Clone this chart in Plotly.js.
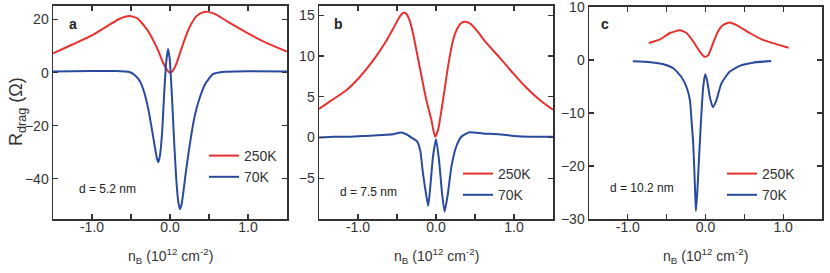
<!DOCTYPE html>
<html><head><meta charset="utf-8">
<script src="https://cdn.plot.ly/plotly-3.0.1.min.js"></script>
<style>html,body{margin:0;padding:0;background:#fff}#chart{width:830px;height:273px}</style>
</head><body><div id="chart"></div>
<script>
// Panel a (d = 5.2 nm)
const aRedX = [-1.5,-1.25,-1.0,-0.8,-0.65,-0.52,-0.42,-0.3,-0.22,-0.15,-0.09,-0.05,-0.02,0.0,0.03,0.08,0.13,0.2,0.27,0.34,0.42,0.49,0.6,0.75,1.0,1.25,1.5];
const aRedY = [7.3,10.6,14.0,17.6,20.2,21.3,20.5,16.5,12.5,8.2,3.8,1.6,0.3,0.0,0.5,3.2,7.5,13.5,18.2,21.3,22.7,22.9,21.8,19.0,14.8,11.0,7.9];
const aBlueX = [-1.5,-1.0,-0.7,-0.52,-0.45,-0.38,-0.33,-0.28,-0.24,-0.2,-0.17,-0.15,-0.13,-0.1,-0.075,-0.05,-0.026,-0.005,0.015,0.035,0.055,0.08,0.105,0.128,0.15,0.18,0.21,0.27,0.32,0.37,0.45,0.55,0.7,1.0,1.5];
const aBlueY = [0.4,0.6,0.6,0.2,-1.0,-3.5,-7.5,-13.5,-20,-27,-32,-33.8,-31.5,-22,-8,3.5,8.9,5.5,-3.5,-15,-27,-40,-48.5,-51.5,-49.5,-43,-36,-24,-16,-10.5,-4.4,-0.6,0.3,0.5,0.4];
// Panel b (d = 7.5 nm)
const bRedX = [-1.5,-1.35,-1.15,-0.98,-0.81,-0.64,-0.53,-0.46,-0.415,-0.38,-0.34,-0.295,-0.21,-0.124,-0.06,-0.013,0.026,0.09,0.154,0.22,0.28,0.33,0.38,0.45,0.55,0.645,0.816,0.987,1.16,1.33,1.5];
const bRedY = [3.5,4.5,5.8,7.4,9.4,11.8,13.7,14.9,15.3,15.2,14.4,12.8,8.7,4.6,2.2,0.1,0.9,4.6,8.7,12,13.5,14.1,14.2,13.9,12.8,11.6,9.8,7.9,6.1,4.6,3.4];
const bBlueX = [-1.5,-1.3,-1.1,-0.9,-0.7,-0.55,-0.45,-0.38,-0.3,-0.24,-0.2,-0.167,-0.13,-0.1,-0.073,-0.038,0,0.038,0.077,0.11,0.154,0.197,0.26,0.325,0.43,0.6,0.8,1.0,1.2,1.5];
const bBlueY = [0.0,0.1,0.1,0.2,0.3,0.4,0.6,0.4,-0.1,-0.5,-1.7,-4.4,-6.8,-8.4,-6,-2.3,-0.2,-2.7,-6.8,-9.1,-6.8,-3.6,-1.1,0.1,0.65,0.5,0.4,0.2,0.1,0.1];
// Panel c (d = 10.2 nm)
const cRedX = [-0.73,-0.585,-0.457,-0.33,-0.244,-0.158,-0.073,-0.01,0.034,0.098,0.16,0.226,0.31,0.4,0.57,0.74,0.91,1.07];
const cRedY = [3.2,3.9,5.1,5.6,5.1,3.5,1.6,0.6,0.9,3.2,5.4,6.6,7.1,6.6,5.1,3.8,3.0,2.3];
const cBlueX = [-0.936,-0.71,-0.54,-0.41,-0.31,-0.244,-0.2,-0.18,-0.158,-0.137,-0.124,-0.107,-0.085,-0.06,-0.03,-0.004,0.02,0.056,0.094,0.14,0.205,0.31,0.44,0.61,0.846];
const cBlueY = [-0.25,-0.4,-0.8,-1.6,-3.2,-5.1,-7.6,-11.4,-15.8,-23.4,-28.5,-25.3,-19,-12,-5.1,-2.7,-3.8,-7,-8.9,-7.6,-4.4,-2.2,-1.1,-0.5,-0.2];

const seriesNames = ['250K','70K'];
const panelLabels = ['a','b','c'];
const thickLabels = ['d = 5.2 nm','d = 7.5 nm','d = 10.2 nm'];
const xTickVals = [-1.5,-1,-0.5,0,0.5,1,1.5];
const xTickText = ['','-1.0','','0.0','','1.0',''];
const aTickVals = [-40,-20,0,20];
const bTickVals = [-5,0,5,10,15];
const cTickVals = [-30,-20,-10,0,10];

const RED = '#e8312f', BLUE = '#2a4a9f';
const FONT = 'Liberation Sans, Arial, sans-serif';

function tr(x,y,name,color,xa,ya,leg){
  return {x:x,y:y,name:name,type:'scatter',mode:'lines',xaxis:xa,yaxis:ya,legend:leg,
    line:{color:color,width:2,shape:'spline',smoothing:0.5},hoverinfo:'skip'};
}
const data = [
  tr(aRedX,aRedY,seriesNames[0],RED,'x','y','legend'),
  tr(aBlueX,aBlueY,seriesNames[1],BLUE,'x','y','legend'),
  tr(bRedX,bRedY,seriesNames[0],RED,'x2','y2','legend2'),
  tr(bBlueX,bBlueY,seriesNames[1],BLUE,'x2','y2','legend2'),
  tr(cRedX,cRedY,seriesNames[0],RED,'x3','y3','legend3'),
  tr(cBlueX,cBlueY,seriesNames[1],BLUE,'x3','y3','legend3')
];

const W=830,H=273;
const px = v=>v/W, py = v=>1-v/H;
const ydom=[py(219),py(5.5)];
const ydomC=[py(219),py(6.5)];
function xax(d){return {domain:d,range:[-1.5,1.5],tickvals:xTickVals,ticktext:xTickText,ticks:'inside',ticklen:5,
  tickwidth:1.2,tickcolor:'#333',showline:true,linecolor:'#333',linewidth:1.5,mirror:'ticks',zeroline:false,showgrid:false,
  ticklabelstandoff:-5,ticklabeloverflow:'allow',tickfont:{family:FONT,size:14,color:'#333'},fixedrange:true};}
function yax(dom,r,tv,anchor){return {domain:dom,range:r,tickvals:tv,ticks:'inside',ticklen:5,tickwidth:1.2,tickcolor:'#333',
  showline:true,linecolor:'#333',linewidth:1.5,mirror:'ticks',zeroline:false,showgrid:false,anchor:anchor,
  ticklabeloverflow:'allow',tickfont:{family:FONT,size:14,color:'#333'},fixedrange:true};}
function leg(x,y){return {x:px(x),y:py(y),xanchor:'left',yanchor:'top',bgcolor:'rgba(0,0,0,0)',borderwidth:0,
  itemwidth:30,tracegroupgap:0,font:{family:FONT,size:14,color:'#333'}};}

const annotations=[];
const labPos=[[73,24],[338,24],[605,24]];
const dPos=[[107,189],[368,192],[642,188]];
const xTitleCx=[170,436,705];
for(let i=0;i<3;i++){
  annotations.push({text:'<b>'+panelLabels[i]+'</b>',xref:'paper',yref:'paper',x:px(labPos[i][0]),y:py(labPos[i][1]),
    showarrow:false,xanchor:'center',yanchor:'middle',font:{family:FONT,size:14,color:'#222'}});
  annotations.push({text:thickLabels[i],xref:'paper',yref:'paper',x:px(dPos[i][0]),y:py(dPos[i][1]),
    showarrow:false,xanchor:'center',yanchor:'middle',font:{family:FONT,size:12,color:'#222'}});
  annotations.push({text:'n<sub>B</sub> (10<sup>12</sup> cm<sup>-2</sup>)',xref:'paper',yref:'paper',x:px(xTitleCx[i]),y:py(256),
    showarrow:false,xanchor:'center',yanchor:'middle',font:{family:FONT,size:14,color:'#333'}});
}
annotations.push({text:'R<sub>drag</sub> (Ω)',xref:'paper',yref:'paper',x:px(17),y:py(112),textangle:-90,
  showarrow:false,xanchor:'center',yanchor:'middle',font:{family:FONT,size:18,color:'#333'}});

const layout={width:W,height:H,margin:{l:0,r:0,t:0,b:0},paper_bgcolor:'#fff',plot_bgcolor:'#fff',showlegend:true,
  xaxis:xax([px(53),px(287)]),xaxis2:xax([px(319),px(553)]),xaxis3:xax([px(589),px(822)]),
  yaxis:yax(ydom,[-55.2,25.3],aTickVals,'x'),yaxis2:yax(ydom,[-10,16.2],bTickVals,'x2'),yaxis3:yax(ydomC,[-30,10.1],cTickVals,'x3'),
  legend:leg(204,140),legend2:leg(458,158),legend3:leg(722,158),
  annotations:annotations};
layout.xaxis.anchor='y';layout.xaxis2.anchor='y2';layout.xaxis3.anchor='y3';
Plotly.newPlot('chart',data,layout,{staticPlot:true,displayModeBar:false});
</script></body></html>
